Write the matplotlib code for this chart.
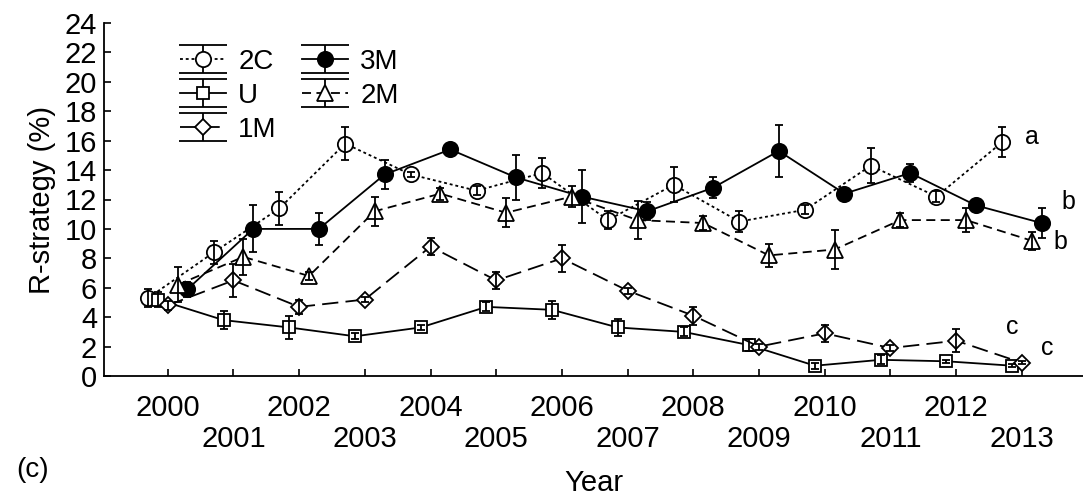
import numpy as np
import matplotlib
matplotlib.use("Agg")
import matplotlib.pyplot as plt
from matplotlib.legend_handler import HandlerErrorbar
from matplotlib.lines import Line2D

plt.rcParams['font.family'] = ['Liberation Sans', 'DejaVu Sans']

years = np.arange(2000, 2014)

# R-strategy (%) means and error per treatment
c2 = [5.3, 8.4, 11.4, 15.8, 13.7, 12.6, 13.8, 10.6, 13.0, 10.5, 11.3, 14.3, 12.2, 15.9]
c2_err = [0.6, 0.8, 1.1, 1.1, 0.2, 0.3, 1.0, 0.6, 1.2, 0.7, 0.3, 1.2, 0.4, 1.0]

m3 = [5.9, 10.0, 10.0, 13.7, 15.4, 13.5, 12.2, 11.2, 12.8, 15.3, 12.4, 13.8, 11.6, 10.4]
m3_err = [0.5, 1.6, 1.1, 1.0, 0.2, 1.5, 1.8, 0.6, 0.7, 1.75, 0.4, 0.6, 0.3, 1.0]

u = [5.2, 3.8, 3.3, 2.7, 3.3, 4.7, 4.5, 3.3, 3.0, 2.1, 0.7, 1.1, 1.0, 0.7]
u_err = [0.5, 0.6, 0.8, 0.2, 0.2, 0.3, 0.6, 0.6, 0.3, 0.4, 0.2, 0.3, 0.1, 0.1]

m2 = [6.2, 8.1, 6.8, 11.2, 12.4, 11.1, 12.2, 10.6, 10.4, 8.2, 8.6, 10.6, 10.6, 9.2]
m2_err = [1.2, 1.2, 0.3, 1.0, 0.4, 1.0, 0.7, 1.3, 0.5, 0.8, 1.3, 0.5, 0.8, 0.6]

m1 = [4.8, 6.5, 4.7, 5.2, 8.8, 6.5, 8.0, 5.8, 4.1, 2.0, 2.9, 1.9, 2.4, 0.9]
m1_err = [0.3, 1.1, 0.5, 0.2, 0.6, 0.6, 0.9, 0.2, 0.6, 0.2, 0.6, 0.2, 0.8, 0.1]

# letters next to the 2013 values
letters = ['a', 'b', 'b', 'c', 'c']
letter_pos = [(2013.15, 16.25), (2013.71, 11.8), (2013.58, 9.1), (2012.86, 3.35), (2013.38, 1.9)]


# wide caps in the legend like the original figure
class WideCapHandler(HandlerErrorbar):
    def create_artists(self, *args, **kwargs):
        artists = super().create_artists(*args, **kwargs)
        for a in artists:
            if isinstance(a, Line2D) and a.get_marker() == '_':
                a.set_markersize(34)
        return artists


fig = plt.figure(figsize=(10.83, 4.97), dpi=100)
ax = fig.add_axes([104 / 1083, 121 / 497, 979 / 1083, 353 / 497])

series = [
    ('2C', c2, c2_err, dict(marker='o', ms=11, mfc='white', ls=(0, (1.6, 1.6)), dx=-0.3)),
    ('U', u, u_err, dict(marker='s', ms=9, mfc='white', ls='-', dx=-0.15)),
    ('1M', m1, m1_err, dict(marker='D', ms=8, mfc='white', ls=(0, (9, 4)), dx=0.0)),
    ('3M', m3, m3_err, dict(marker='o', ms=11, mfc='black', ls='-', dx=0.3)),
    ('2M', m2, m2_err, dict(marker='^', ms=11, mfc='white', ls=(0, (5, 3)), dx=0.15)),
]

handles = []
for name, vals, err, st in series:
    h = ax.errorbar(years + st['dx'], vals, yerr=err, color='black', lw=1.3,
                    ls=st['ls'], marker=st['marker'], ms=st['ms'],
                    mfc=st['mfc'], mec='black', mew=1.3,
                    elinewidth=1.3, capsize=3, capthick=1.3,
                    barsabove=True, label=name)
    handles.append(h)

for txt, (x, y) in zip(letters, letter_pos):
    ax.text(x, y, txt, fontsize=18, ha='center', va='center')

ax.set_xlim(1999.03, 2013.93)
ax.set_ylim(0, 24)
ax.set_yticks(np.arange(0, 25, 2))

ax.set_xticks(years[::2])
ax.set_xticks(years[1::2], minor=True)
ax.set_xticklabels([str(y) for y in years[::2]])
ax.set_xticklabels([str(y) for y in years[1::2]], minor=True)
ax.tick_params(axis='both', which='both', direction='in', length=5, width=1.2, labelsize=21)
ax.tick_params(axis='x', which='major', pad=13)
ax.tick_params(axis='x', which='minor', pad=35)
ax.tick_params(axis='y', pad=5)

for s in ['top', 'right']:
    ax.spines[s].set_visible(False)
for s in ['left', 'bottom']:
    ax.spines[s].set_linewidth(1.3)

ax.set_ylabel('R-strategy (%)', fontsize=21, labelpad=6)
ax.set_xlabel('Year', fontsize=21, labelpad=12)
fig.text(33 / 1083, 1 - 470 / 497, '(c)', fontsize=20, ha='center', va='center')

ax.legend(handles=handles, ncol=2, frameon=False, fontsize=20,
          loc='upper left', bbox_to_anchor=(180 / 1083, 1 - 49 / 497),
          bbox_transform=fig.transFigure, borderpad=0, borderaxespad=0,
          handlelength=1.65, handletextpad=0.45, columnspacing=0.9,
          labelspacing=0.28, handler_map={type(handles[0]): WideCapHandler(numpoints=1)})

fig.savefig('out.png', dpi=100)
